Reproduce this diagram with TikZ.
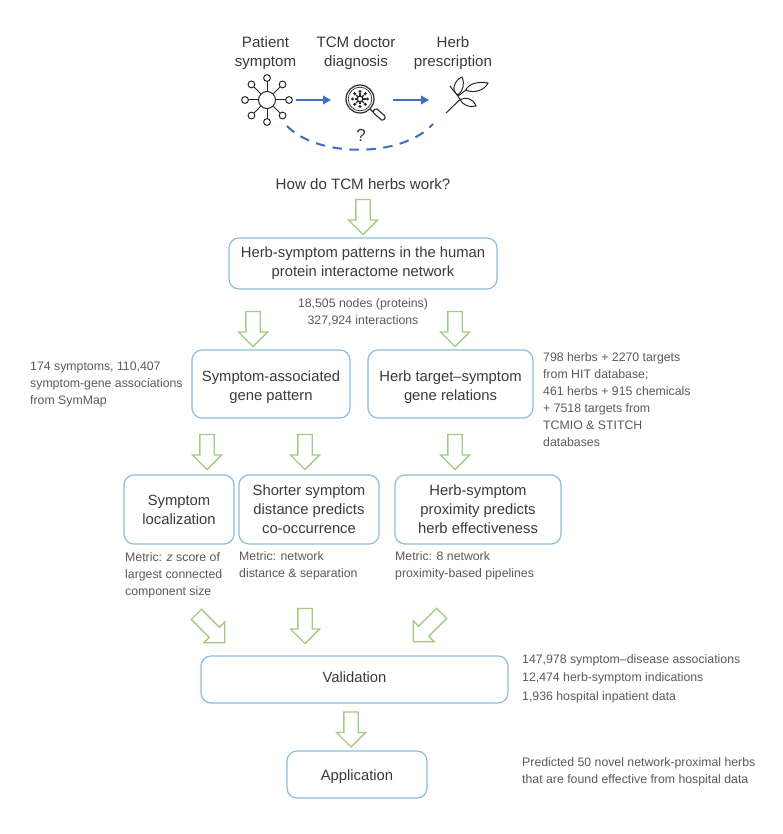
\documentclass[tikz,border=0pt]{standalone}
\usepackage{fontspec}
\setmainfont{Liberation Sans}
\usetikzlibrary{shapes.arrows,arrows.meta,calc}
\definecolor{boxblue}{HTML}{8DBDE0}
\definecolor{arrowgreen}{HTML}{A3CB84}
\definecolor{flowblue}{HTML}{3F6FC4}
\definecolor{txt}{HTML}{3A3A3A}
\definecolor{subtxt}{HTML}{5A5A5A}
\definecolor{icon}{HTML}{2A2A2A}
\tikzset{
 x=1pt,y=-1pt,
 stagebox/.style={draw=boxblue,line width=1.2pt,rounded corners=10pt,align=center,inner sep=0pt,font=\fontsize{14.8}{19.2}\selectfont,text=txt},
 note/.style={align=left,inner sep=0pt,anchor=north west,font=\fontsize{12.3}{17}\selectfont,text=subtxt},
 headtxt/.style={align=center,inner sep=0pt,font=\fontsize{15.1}{19.5}\selectfont,text=txt},
 hollow/.style={single arrow,draw=arrowgreen,line width=1.3pt,fill=white,minimum height=35pt,inner xsep=0pt,inner ysep=6.5pt,single arrow head extend=7.5pt,single arrow head indent=0pt,shape border rotate=0},
 flow/.style={draw=flowblue,line width=2pt,-{Triangle[length=8pt,width=8.5pt]}},
 ic/.style={draw=icon,line width=1pt},
}
\begin{document}
\begin{tikzpicture}
\useasboundingbox (0,0) rectangle (782,834);
\fill[white] (0,0) rectangle (782,834);

% top labels
\node[headtxt] (lab1) at (265.5,53) {Patient\\symptom};
\node[headtxt] (lab2) at (356,53) {TCM doctor\\diagnosis};
\node[headtxt] (lab3) at (453,53) {Herb\\prescription};

% network icon
\coordinate (sym) at (267,100);
\coordinate (doc) at (360,99);
\coordinate (herb) at (446,113);
\draw[ic] (sym) circle (8.5);
\foreach \a in {0,45,...,315}{
  \draw[ic] ($(sym)+(\a:8.5)$) -- ($(sym)+(\a:18.7)$);
  \draw[ic] ($(sym)+(\a:22)$) circle (3.4);
}
% magnifier icon
\draw[ic,line width=1.2pt] (doc) circle (14);
\draw[ic,line width=0.7pt] (doc) circle (11.8);
\draw[ic,line width=1.1pt] (370,109) -- (373,112);
\draw[ic,line width=1.1pt,rounded corners=1.5pt] (372.5,112) -- (382.5,121) -- (386,117) -- (376,108) -- cycle;
\draw[ic,line width=1.2pt] (doc) circle (2.8);
\foreach \a in {0,45,...,315}{
  \draw[icon,line width=1.1pt] ($(doc)+(\a:2.8)$) -- ($(doc)+(\a:5.5)$);
  \fill[icon] ($(doc)+(\a:7.5)$) circle (1.7);
}
% herb icon
\draw[ic,line cap=round] (herb) -- (460,99.5) .. controls (458,95) and (454,92) .. (450,86);
\draw[ic] (458,95) .. controls (450,90) and (455,80) .. (462,77) .. controls (465,84) and (463,91) .. (458,95);
\draw[ic] (458,96) -- (466,90);
\draw[ic] (466,90) .. controls (468,84) and (478,81) .. (488,83) .. controls (485,90) and (474,94) .. (466,90);
\draw[ic] (460,99.5) .. controls (466,97) and (473,98) .. (476,106) .. controls (469,108) and (463,105) .. (460,99.5);

% flow
\coordinate (f1a) at (296,100); \coordinate (f1b) at (331,100);
\coordinate (f2a) at (393,100); \coordinate (f2b) at (429,100);
\coordinate (c1) at (287,126); \coordinate (c2) at (433,124);
\draw[flow] (f1a) -- (f1b);
\draw[flow] (f2a) -- (f2b);
\draw[flowblue,line width=2pt,dash pattern=on 9.5pt off 7.5pt] (c1) .. controls (318,158) and (402,158) .. (c2);
\node[inner sep=0pt,font=\fontsize{17.5}{17.5}\selectfont,text=txt] (q) at (361,135) {?};
\node[headtxt] (how) at (363,184) {How do TCM herbs work?};

% boxes
\node[stagebox,minimum width=268pt,minimum height=51pt] (b1) at (363,263.5) {Herb-symptom patterns in the human\\protein interactome network};
\node[stagebox,minimum width=158pt,minimum height=68pt] (b2) at (271,384) {\rule{0pt}{16.6pt}Symptom-associated\\gene pattern};
\node[stagebox,minimum width=165pt,minimum height=68pt] (b3) at (450.5,384) {\rule{0pt}{16.6pt}Herb target--symptom\\gene relations};
\node[stagebox,minimum width=110pt,minimum height=69pt] (b4) at (179,509.5) {Symptom\\localization};
\node[stagebox,minimum width=140pt,minimum height=69pt] (b5) at (309,509.5) {Shorter symptom\\distance predicts\\co-occurrence};
\node[stagebox,minimum width=166pt,minimum height=69pt] (b6) at (478,509.5) {Herb-symptom\\proximity predicts\\herb effectiveness};
\node[stagebox,minimum width=307pt,minimum height=47pt,text height=5pt,text depth=0pt] (b7) at (354.5,679.5) {Validation};
\node[stagebox,minimum width=140pt,minimum height=47pt,text height=11pt,text depth=0pt] (b8) at (357,774.5) {Application};

% block arrows
\node[hollow,rotate=-90] (a1) at (363,213.5) {};
\node[hollow,rotate=-90] (a2) at (253,325.5) {};
\node[hollow,rotate=-90] (a3) at (455,325.5) {};
\node[hollow,rotate=-90] (a4) at (207,448.5) {};
\node[hollow,rotate=-90] (a5) at (305,448.5) {};
\node[hollow,rotate=-90] (a6) at (455,448.5) {};
\node[hollow,rotate=-45,minimum height=40pt] (a7) at (208,626) {};
\node[hollow,rotate=-90] (a8) at (305,622.5) {};
\node[hollow,rotate=-135,minimum height=40pt] (a9) at (430,625) {};
\node[hollow,rotate=-90] (a10) at (351,726) {};

% notes
\node[note,align=center,anchor=north] (n1) at (363,298.5) {18,505 nodes (proteins)\\327,924 interactions};
\node[note] (n2) at (30,362) {174 symptoms, 110,407\\symptom-gene associations\\from SymMap};
\node[note] (n3) at (543,352.5) {798 herbs + 2270 targets\\from HIT database;\\461 herbs + 915 chemicals\\+ 7518 targets from\\TCMIO \& STITCH\\databases};
\node[note] (n4) at (125,552) {Metric: \textit{z} score of\\largest connected\\component size};
\node[note] (n5) at (239,551) {Metric: network\\distance \& separation};
\node[note] (n6) at (395,551) {Metric: 8 network\\proximity-based pipelines};
\node[note,font=\fontsize{12.3}{18.7}\selectfont] (n7) at (522,654) {147,978 symptom--disease associations\\12,474 herb-symptom indications\\1,936 hospital inpatient data};
\node[note] (n8) at (522,757) {Predicted 50 novel network-proximal herbs\\that are found effective from hospital data};
\end{tikzpicture}
\end{document}
